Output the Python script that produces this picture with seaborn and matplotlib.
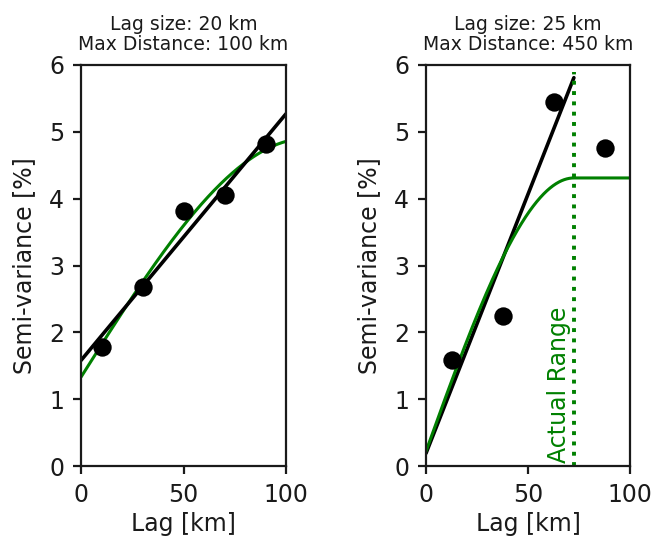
import numpy as np
import pandas as pd
import matplotlib
matplotlib.use("Agg")
import matplotlib.pyplot as plt
import seaborn as sns

# ---- data ----
titles = ["Lag size: 20 km\nMax Distance: 100 km",
          "Lag size: 25 km\nMax Distance: 450 km"]

left_lag = [10, 30, 50, 70, 90]
left_semivar = [1.78, 2.68, 3.81, 4.05, 4.82]
left_linear_x = [0, 100]
left_linear_y = [1.58, 5.27]
left_nugget, left_sill, left_range = 1.33, 4.90, 110.0

right_lag = [12.5, 37.5, 62.5, 87.5]
right_semivar = [1.58, 2.24, 5.45, 4.76]
right_linear_x = [0, 72.5]
right_linear_y = [0.19, 5.81]
right_nugget, right_sill, right_range = 0.22, 4.31, 72.5
range_line_top = 5.9

x_ticks = [0, 50, 100]
y_ticks = [0, 1, 2, 3, 4, 5, 6]


def spherical(h, nugget, sill, a):
    h = np.asarray(h, dtype=float)
    r = np.clip(h / a, 0, 1)
    return nugget + (sill - nugget) * (1.5 * r - 0.5 * r ** 3)


sns.set_style("ticks")
plt.rcParams['font.family'] = ['DejaVu Sans']

fig = plt.figure(figsize=(6.64, 5.38), dpi=100)
ax1 = fig.add_axes([81 / 664, 1 - 466 / 538, 205 / 664, 401 / 538])
ax2 = fig.add_axes([426 / 664, 1 - 466 / 538, 204 / 664, 401 / 538])

h_grid = np.linspace(0, 100, 401)
ink = "#1a1a1a"
fs = 17

# left panel
sns.lineplot(x=h_grid, y=spherical(h_grid, left_nugget, left_sill, left_range),
             ax=ax1, color="green", linewidth=2.2, sort=False, estimator=None)
sns.lineplot(x=left_linear_x, y=left_linear_y, ax=ax1, color="black",
             linewidth=2.6, sort=False, estimator=None)
sns.scatterplot(x=left_lag, y=left_semivar, ax=ax1, color="black", s=175,
                edgecolor="black", linewidth=0, zorder=5)

# right panel
sns.lineplot(x=right_linear_x, y=right_linear_y, ax=ax2, color="black",
             linewidth=2.6, sort=False, estimator=None)
sns.lineplot(x=h_grid, y=spherical(h_grid, right_nugget, right_sill, right_range),
             ax=ax2, color="green", linewidth=2.2, sort=False, estimator=None)
sns.scatterplot(x=right_lag, y=right_semivar, ax=ax2, color="black", s=175,
                edgecolor="black", linewidth=0, zorder=5)
ax2.vlines(right_range, 0, range_line_top, colors="green", linestyles=":",
           linewidth=2.8)
ax2.text(right_range - 1.2, 0.05, "Actual Range", rotation=90, ha="right",
         va="bottom", color="green", fontsize=fs)

for ax, t in zip([ax1, ax2], titles):
    ax.set_xlim(0, 100)
    ax.set_ylim(0, 6)
    ax.set_xticks(x_ticks)
    ax.set_yticks(y_ticks)
    ax.tick_params(labelsize=fs, length=6, width=1.6, pad=6, colors=ink,
                   labelcolor=ink)
    for sp in ax.spines.values():
        sp.set_visible(True)
        sp.set_linewidth(1.6)
        sp.set_color(ink)
    ax.set_xlabel("Lag [km]", fontsize=fs, color=ink, labelpad=4)
    ax.set_ylabel("Semi-variance [%]", fontsize=fs, color=ink, labelpad=9)
    ax.set_title(t, fontsize=13.5, color=ink, pad=11, linespacing=1.05)

fig.savefig("out.png", dpi=100)
